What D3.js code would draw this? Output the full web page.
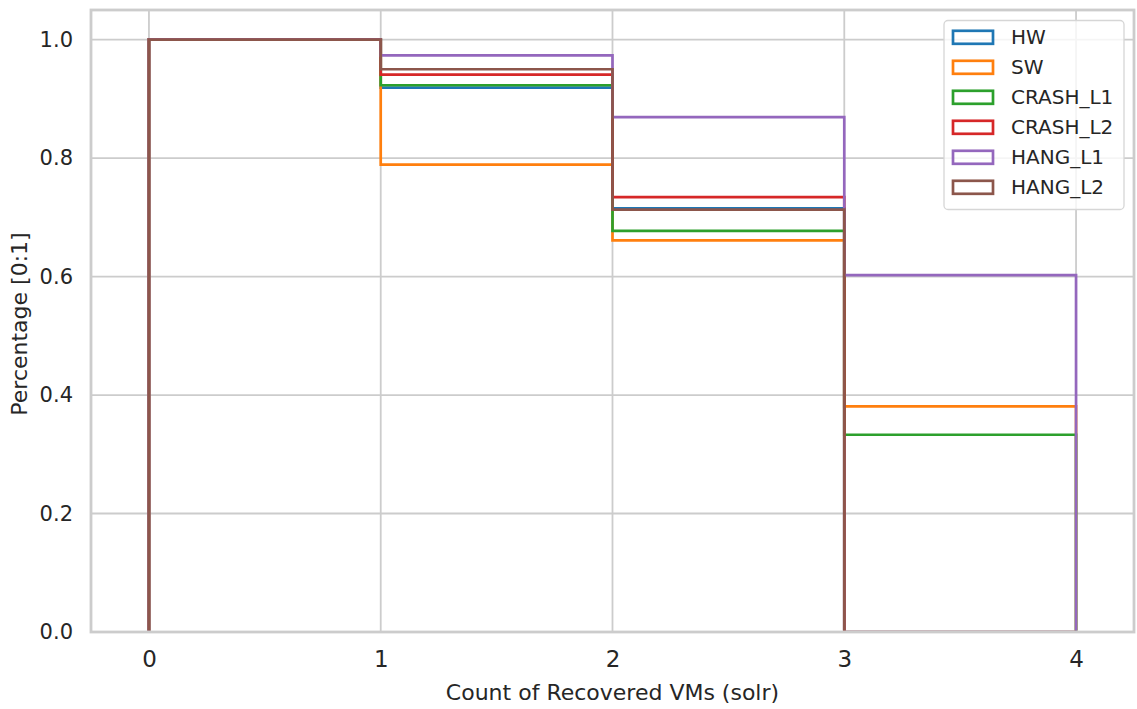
<!DOCTYPE html>
<html>
<head>
<meta charset="utf-8">
<script src="https://cdn.jsdelivr.net/npm/d3@7"></script>
<style>
html,body{margin:0;padding:0;background:#fff;}
svg text{font-family:"DejaVu Sans",sans-serif;fill:#262626;}
</style>
</head>
<body>
<svg id="chart" width="1137" height="709"></svg>
<script>
// ---- data ----
const seriesNames = ["HW", "SW", "CRASH_L1", "CRASH_L2", "HANG_L1", "HANG_L2"];
const seriesColors = ["#1f77b4", "#ff7f0e", "#2ca02c", "#d62728", "#9467bd", "#8c564b"];
const binEdges = [0, 1, 2, 3, 4];
const HW       = [1.0, 0.919, 0.715, 0.0];
const SW       = [1.0, 0.789, 0.661, 0.381];
const CRASH_L1 = [1.0, 0.923, 0.677, 0.333];
const CRASH_L2 = [1.0, 0.941, 0.734, 0.0];
const HANG_L1  = [1.0, 0.9735, 0.869, 0.6025];
const HANG_L2  = [1.0, 0.950, 0.713, 0.0];
const seriesValues = [HW, SW, CRASH_L1, CRASH_L2, HANG_L1, HANG_L2];
const xTicks = [0, 1, 2, 3, 4];
const yTicks = [0.0, 0.2, 0.4, 0.6, 0.8, 1.0];
const xLabel = "Count of Recovered VMs (solr)";
const yLabel = "Percentage [0:1]";

// ---- layout ----
const svg = d3.select("#chart");
const L = 91, R = 1134, T = 10, B = 632;
const x = d3.scaleLinear().domain([-0.25, 4.25]).range([L, R]);
const y = d3.scaleLinear().domain([0, 1.05]).range([B, T]);

// grid
const grid = svg.append("g");
grid.selectAll("line.gx").data(xTicks).join("line")
  .attr("x1", d => x(d)).attr("x2", d => x(d)).attr("y1", T).attr("y2", B)
  .attr("stroke", "#cccccc").attr("stroke-width", 1.8);
grid.selectAll("line.gy").data(yTicks).join("line")
  .attr("y1", d => y(d)).attr("y2", d => y(d)).attr("x1", L).attr("x2", R)
  .attr("stroke", "#cccccc").attr("stroke-width", 1.8);

// clip (zero-height steps sit under the bottom spine)
svg.append("defs").append("clipPath").attr("id", "clip")
  .append("rect").attr("x", L).attr("y", T).attr("width", R - L).attr("height", B - T - 1.3);

// step lines
const line = d3.line().x(d => x(d[0])).y(d => y(d[1])).curve(d3.curveStepAfter);
const lines = svg.append("g").attr("clip-path", "url(#clip)");
seriesValues.forEach((vals, i) => {
  const pts = [[binEdges[0], 0]];
  vals.forEach((v, j) => pts.push([binEdges[j], v]));
  pts.push([binEdges[binEdges.length - 1], vals[vals.length - 1]]);
  pts.push([binEdges[binEdges.length - 1], 0]);
  lines.append("path").attr("d", line(pts))
    .attr("fill", "none").attr("stroke", seriesColors[i])
    .attr("stroke-width", 2.7).attr("stroke-linejoin", "miter");
});

// spines
svg.append("rect").attr("x", L).attr("y", T).attr("width", R - L).attr("height", B - T)
  .attr("fill", "none").attr("stroke", "#cccccc").attr("stroke-width", 2.8);

// axes
const xAxis = svg.append("g").attr("transform", `translate(0,${B})`)
  .call(d3.axisBottom(x).tickValues(xTicks).tickFormat(d3.format("d")).tickSize(0).tickPadding(19));
xAxis.select(".domain").remove();
xAxis.selectAll("text").attr("font-size", 23).attr("font-family", "DejaVu Sans").attr("fill", "#262626");

const yAxis = svg.append("g").attr("transform", `translate(${L},0)`)
  .call(d3.axisLeft(y).tickValues(yTicks).tickFormat(d3.format(".1f")).tickSize(0).tickPadding(18));
yAxis.select(".domain").remove();
yAxis.selectAll("text").attr("font-size", 21).attr("font-family", "DejaVu Sans").attr("fill", "#262626");

svg.append("text").attr("x", (L + R) / 2).attr("y", 700).attr("text-anchor", "middle")
  .attr("font-size", 22).text(xLabel);
svg.append("text").attr("transform", `translate(27,${(T + B) / 2 + 3}) rotate(-90)`)
  .attr("text-anchor", "middle").attr("font-size", 22).text(yLabel);

// legend
const lg = svg.append("g");
lg.append("rect").attr("x", 944).attr("y", 20.5).attr("width", 180).attr("height", 189)
  .attr("rx", 4).attr("fill", "#ffffff").attr("fill-opacity", 0.8)
  .attr("stroke", "#d6d6d6").attr("stroke-width", 1.3);
seriesNames.forEach((n, i) => {
  const cy = 37.3 + i * 30;
  lg.append("rect").attr("x", 953).attr("y", cy - 6.5).attr("width", 40).attr("height", 13)
    .attr("fill", "none").attr("stroke", seriesColors[i]).attr("stroke-width", 2.7);
  lg.append("text").attr("x", 1011).attr("y", cy + 7).attr("font-size", 20).text(n);
});
</script>
</body>
</html>
